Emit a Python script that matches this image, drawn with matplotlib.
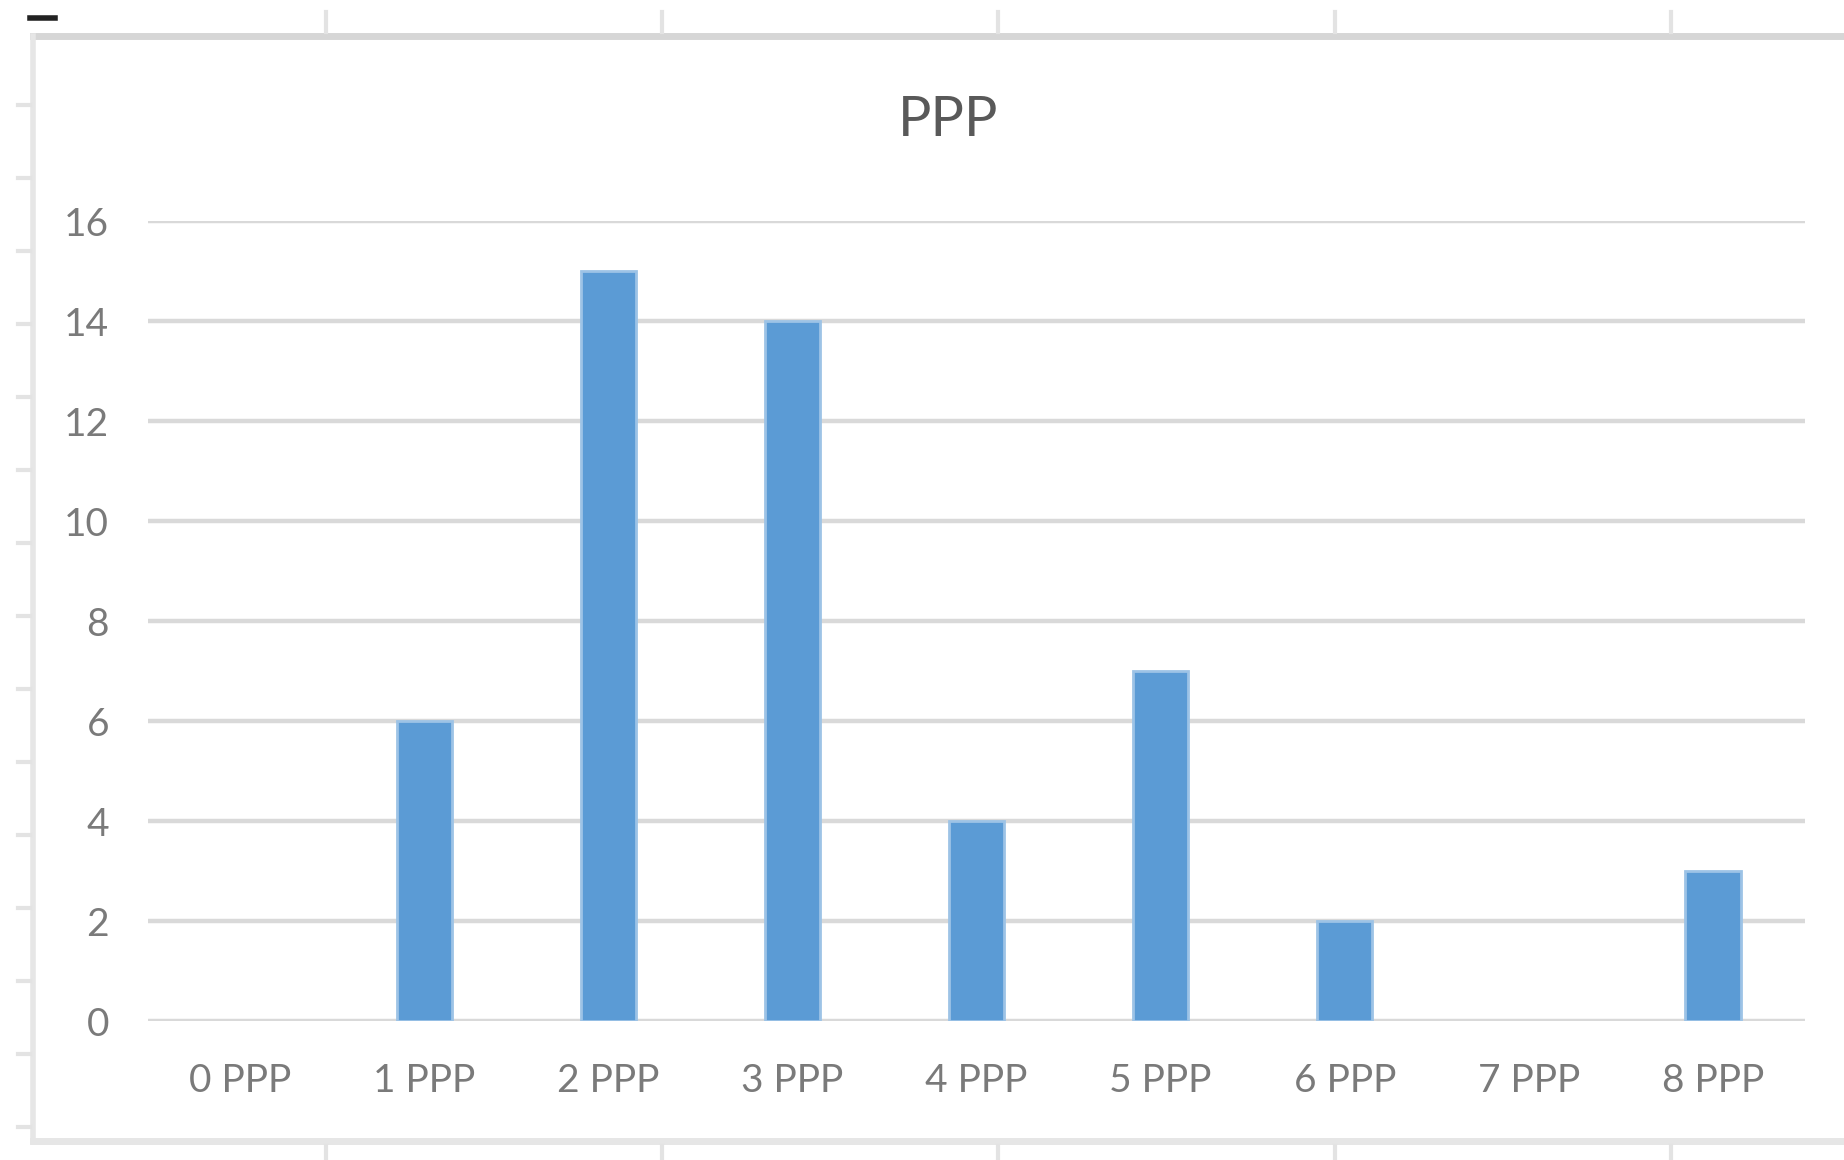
import matplotlib.pyplot as plt
from matplotlib.lines import Line2D
import numpy as np

categories = ["0 PPP", "1 PPP", "2 PPP", "3 PPP", "4 PPP", "5 PPP", "6 PPP", "7 PPP", "8 PPP"]
counts = [0, 6, 15, 14, 4, 7, 2, 0, 3]
title = "PPP"
y_ticks = [0, 2, 4, 6, 8, 10, 12, 14, 16]

W, H = 1844, 1160
plt.rcParams["font.family"] = ["Lato", "DejaVu Sans"]

fig = plt.figure(figsize=(W / 100, H / 100), dpi=100)
fig.patch.set_facecolor("white")

# spreadsheet background: chart frame and cell ticks
frame = "#d6d6d6"
fig.add_artist(Line2D([33 / W, 1], [1 - 36 / H, 1 - 36 / H], color=frame, lw=5, transform=fig.transFigure))
fig.add_artist(Line2D([33 / W, 33 / W], [1 - 36 / H, 1 - 1141 / H], color="#e6e6e6", lw=4, transform=fig.transFigure))
fig.add_artist(Line2D([33 / W, 1], [1 - 1141 / H, 1 - 1141 / H], color="#e6e6e6", lw=5, transform=fig.transFigure))
for cx in [326, 662, 998, 1335, 1671]:
    fig.add_artist(Line2D([cx / W, cx / W], [1 - 12 / H, 1 - 32 / H], color="#e3e3e3", lw=3, transform=fig.transFigure))
    fig.add_artist(Line2D([cx / W, cx / W], [1 - 1146 / H, 1 - 1160 / H], color="#e3e3e3", lw=3, transform=fig.transFigure))
for ry in np.arange(105, 1140, 73.0):
    fig.add_artist(Line2D([18 / W, 30 / W], [1 - ry / H, 1 - ry / H], color="#e3e3e3", lw=3, transform=fig.transFigure))
fig.add_artist(Line2D([30 / W, 55 / W], [1 - 18 / H, 1 - 18 / H], color="#222222", lw=4, transform=fig.transFigure))

ax = fig.add_axes([148 / W, 1 - 1021 / H, (1805 - 148) / W, (1021 - 221) / H])
x = np.arange(len(categories))
edges = ["#9dc3e6" if v > 0 else "none" for v in counts]
ax.bar(x, counts, width=0.30, color="#5b9bd5", edgecolor=edges, linewidth=2, zorder=3)

ax.set_xlim(-0.5, len(categories) - 0.5)
ax.set_ylim(0, 16)
ax.set_yticks(y_ticks)
ax.set_xticks(x)
ax.set_xticklabels(categories)
ax.grid(axis="y", color="#d9d9d9", lw=3.2, zorder=0)
ax.set_axisbelow(True)
for s in ax.spines.values():
    s.set_visible(False)
ax.tick_params(axis="both", length=0, labelsize=28, labelcolor="#7a7a7a")
ax.tick_params(axis="y", pad=28)
ax.tick_params(axis="x", pad=30)

fig.text(948 / W, 1 - 120 / H, title, ha="center", va="center", fontsize=40, color="#595959")

fig.savefig("out.png", dpi=100, facecolor="white")
